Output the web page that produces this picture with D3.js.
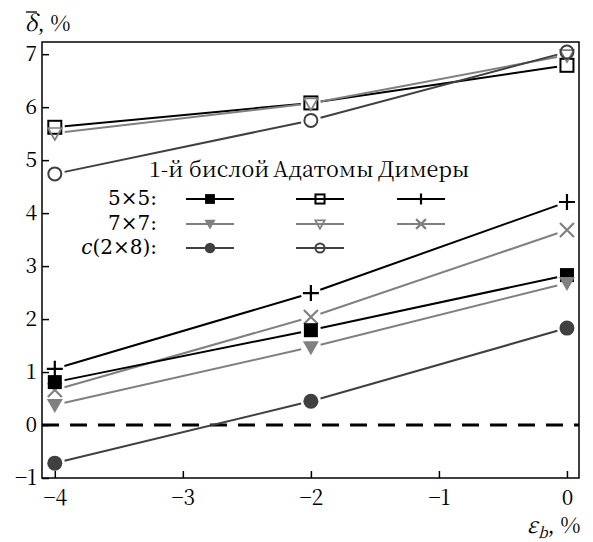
<!DOCTYPE html>
<html>
<head>
<meta charset="utf-8">
<script src="https://cdn.jsdelivr.net/npm/d3@7"></script>
<style>
  body { margin: 0; background: #fff; }
</style>
</head>
<body>
<div id="chart"></div>
<script>
// Strain of the substrate, %
const strain = [-4, -2, 0];

// Mean deviation, %
const bilayer5x5 = [0.81, 1.79, 2.83];
const bilayer7x7 = [0.38, 1.47, 2.68];
const bilayerC2x8 = [-0.72, 0.45, 1.83];
const adatom5x5 = [5.62, 6.08, 6.79];
const adatom7x7 = [5.51, 6.07, 6.98];
const adatomC2x8 = [4.74, 5.75, 7.04];
const dimer5x5 = [1.06, 2.49, 4.21];
const dimer7x7 = [0.66, 2.04, 3.68];

const xTicks = [-4, -3, -2, -1, 0];
const yTicks = [-1, 0, 1, 2, 3, 4, 5, 6, 7];
const columnTitles = ['1-й бислой', 'Адатомы', 'Димеры'];

const width = 593, height = 542;
const margin = { top: 42, right: 14, bottom: 64, left: 42 };
const innerW = width - margin.left - margin.right;
const innerH = height - margin.top - margin.bottom;

const BLACK = '#000000', GRAY = '#808080', DARK = '#404040';
const FONT = '"Noto Serif CJK SC", "DejaVu Serif", "Liberation Serif"';
const FONT_ROWS = '"DejaVu Serif", "Liberation Serif"';

const series = [
  { values: adatom5x5, color: BLACK, marker: 'squareOpen' },
  { values: adatom7x7, color: GRAY, marker: 'triOpen' },
  { values: adatomC2x8, color: DARK, marker: 'circleOpen' },
  { values: dimer5x5, color: BLACK, marker: 'plus' },
  { values: dimer7x7, color: GRAY, marker: 'cross' },
  { values: bilayer5x5, color: BLACK, marker: 'square' },
  { values: bilayer7x7, color: GRAY, marker: 'tri' },
  { values: bilayerC2x8, color: DARK, marker: 'circle' }
];

const x = d3.scaleLinear().domain([-4.1, 0.094]).range([0, innerW]);
const y = d3.scaleLinear().domain([-1, 7.23]).range([innerH, 0]);

const svg = d3.select('#chart').append('svg')
  .attr('width', width).attr('height', height);

const g = svg.append('g').attr('transform', `translate(${margin.left},${margin.top})`);

// draw one marker at (cx, cy), s = scale factor
function drawMarker(sel, type, cx, cy, color, s) {
  const m = sel.append('g').attr('transform', `translate(${cx},${cy})`);
  if (type === 'square') {
    m.append('rect').attr('x', -7 * s).attr('y', -7 * s).attr('width', 14 * s).attr('height', 14 * s).attr('fill', color);
  } else if (type === 'squareOpen') {
    m.append('rect').attr('x', -6.5 * s).attr('y', -6.5 * s).attr('width', 13 * s).attr('height', 13 * s)
      .attr('fill', 'none').attr('stroke', color).attr('stroke-width', 2);
  } else if (type === 'tri' || type === 'triOpen') {
    const p = `M${-8 * s},${-6 * s}L${8 * s},${-6 * s}L0,${8 * s}Z`;
    m.append('path').attr('d', p)
      .attr('fill', type === 'tri' ? color : 'none')
      .attr('stroke', color).attr('stroke-width', type === 'tri' ? 0 : 2)
      .attr('transform', type === 'triOpen' ? 'scale(0.85)' : null);
  } else if (type === 'circle') {
    m.append('circle').attr('r', 7.5 * s).attr('fill', color);
  } else if (type === 'circleOpen') {
    m.append('circle').attr('r', 6.5 * s).attr('fill', 'none').attr('stroke', color).attr('stroke-width', 2);
  } else if (type === 'plus') {
    m.append('path').attr('d', `M${-8 * s},0L${8 * s},0M0,${-8 * s}L0,${8 * s}`)
      .attr('stroke', color).attr('stroke-width', 2.2);
  } else if (type === 'cross') {
    m.append('path').attr('d', `M${-7 * s},${-7 * s}L${7 * s},${7 * s}M${-7 * s},${7 * s}L${7 * s},${-7 * s}`)
      .attr('stroke', color).attr('stroke-width', 2.2);
  }
}

// Zero line
g.append('line')
  .attr('x1', 0).attr('x2', innerW)
  .attr('y1', y(0)).attr('y2', y(0))
  .attr('stroke', '#000').attr('stroke-width', 3)
  .attr('stroke-dasharray', '17,11');

// Lines with gaps around markers
const gap = 10;
series.forEach(s => {
  for (let i = 0; i < strain.length - 1; i++) {
    const x1 = x(strain[i]), y1 = y(s.values[i]);
    const x2 = x(strain[i + 1]), y2 = y(s.values[i + 1]);
    const len = Math.hypot(x2 - x1, y2 - y1);
    const ux = (x2 - x1) / len, uy = (y2 - y1) / len;
    g.append('line')
      .attr('x1', x1 + ux * gap).attr('y1', y1 + uy * gap)
      .attr('x2', x2 - ux * gap).attr('y2', y2 - uy * gap)
      .attr('stroke', s.color).attr('stroke-width', 2);
  }
});

series.forEach(s => {
  strain.forEach((v, i) => drawMarker(g, s.marker, x(v), y(s.values[i]), s.color, 1));
});

// Frame
g.append('rect').attr('width', innerW).attr('height', innerH)
  .attr('fill', 'none').attr('stroke', '#000').attr('stroke-width', 1.5);

// Axes with inward ticks
const minus = d => d < 0 ? '−' + Math.abs(d) : d;
const xAxis = g.append('g').attr('transform', `translate(0,${innerH})`)
  .call(d3.axisBottom(x).tickValues(xTicks).tickSizeInner(-7).tickSizeOuter(0)
    .tickPadding(12).tickFormat(minus));
const yAxis = g.append('g')
  .call(d3.axisLeft(y).tickValues(yTicks).tickSizeInner(-7).tickSizeOuter(0)
    .tickPadding(5).tickFormat(minus));
[xAxis, yAxis].forEach(a => {
  a.attr('font-size', 21);
  a.select('.domain').remove();
  a.selectAll('.tick line').attr('stroke', '#000').attr('stroke-width', 1.5);
});

// Axis titles
const yt = svg.append('text').attr('x', 25).attr('y', 31).attr('font-size', 22);
yt.append('tspan').attr('font-style', 'italic').text('δ');
yt.append('tspan').text(', %');
svg.append('line').attr('x1', 26).attr('x2', 37).attr('y1', 12).attr('y2', 12)
  .attr('stroke', '#000').attr('stroke-width', 1.3);

const xt = svg.append('text').attr('x', 527).attr('y', 533).attr('font-size', 22);
xt.append('tspan').attr('font-style', 'italic').text('ε');
xt.append('tspan').attr('font-style', 'italic').attr('font-size', 15).attr('dy', 5).text('b');
xt.append('tspan').attr('dy', -5).text(', %');

svg.selectAll('text').style('font-family', FONT).style('fill', '#000');

// Legend
const colX = [210, 320, 421];
const titleX = [149, 273, 378];
const rowY = [199, 224, 248];
const legend = svg.append('g');
columnTitles.forEach((t, i) => {
  legend.append('text').attr('x', titleX[i]).attr('y', 177)
    .attr('font-size', 21.5).style('font-family', FONT).style('fill', '#000').text(t);
});
const rowLabels = ['5×5:', '7×7:', null];
rowY.forEach((ry, i) => {
  const tx = legend.append('text').attr('x', 157).attr('y', ry + 6)
    .attr('text-anchor', 'end').attr('font-size', 20)
    .style('font-family', FONT_ROWS).style('font-weight', 300).style('fill', '#000');
  if (rowLabels[i]) tx.text(rowLabels[i]);
  else {
    tx.append('tspan').attr('font-style', 'italic').text('c');
    tx.append('tspan').text('(2×8):');
  }
});
const legendRows = [
  [series[5], series[0], series[3]],
  [series[6], series[1], series[4]],
  [series[7], series[2], null]
];
legendRows.forEach((row, r) => {
  row.forEach((s, c) => {
    if (!s) return;
    legend.append('line')
      .attr('x1', colX[c] - 24).attr('x2', colX[c] + 24)
      .attr('y1', rowY[r]).attr('y2', rowY[r])
      .attr('stroke', s.color).attr('stroke-width', 2);
    drawMarker(legend, s.marker, colX[c], rowY[r], s.color, 0.7);
  });
});
</script>
</body>
</html>
